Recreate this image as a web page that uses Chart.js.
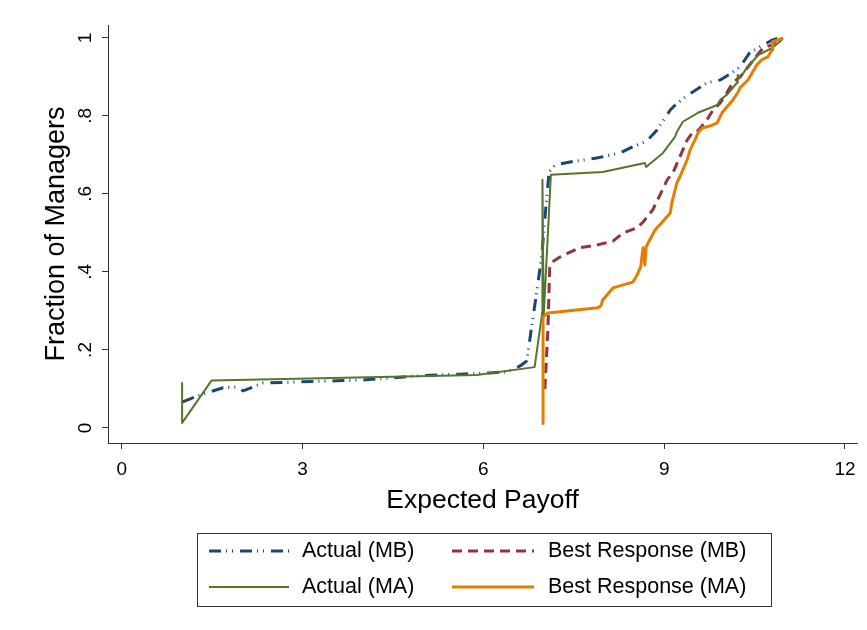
<!DOCTYPE html>
<html>
<head>
<meta charset="utf-8">
<script src="https://cdn.jsdelivr.net/npm/chart.js@4.4.1/dist/chart.umd.min.js"></script>
<style>
  html, body { margin: 0; padding: 0; background: #fff; }
  #wrap { width: 867px; height: 630px; position: relative; }
</style>
</head>
<body>
<div id="wrap"><canvas id="cdf"></canvas></div>
<script>
// Cumulative share of managers by expected payoff
const seriesLabels = ['Actual (MB)', 'Best Response (MB)', 'Actual (MA)', 'Best Response (MA)'];

const actualMBX = [1.01, 1.34, 1.68, 1.93, 2.01, 2.34, 2.90, 3.57, 4.00, 4.45, 4.83, 5.61, 6.11, 6.39, 6.61, 6.72, 6.80, 6.89, 6.97, 7.04, 7.09, 7.19, 7.44, 7.88, 8.27, 8.48, 8.71, 8.88, 9.10, 9.15, 9.31, 9.48, 9.71, 9.93, 10.12, 10.26, 10.42, 10.59, 10.80, 10.92];
const actualMBY = [0.067, 0.087, 0.103, 0.105, 0.095, 0.115, 0.118, 0.121, 0.123, 0.128, 0.133, 0.138, 0.141, 0.144, 0.159, 0.172, 0.259, 0.354, 0.444, 0.572, 0.656, 0.674, 0.682, 0.692, 0.705, 0.721, 0.735, 0.764, 0.815, 0.823, 0.844, 0.862, 0.885, 0.892, 0.910, 0.926, 0.962, 0.977, 0.995, 1.0];

const bestMBX = [7.02, 7.07, 7.10, 7.14, 7.27, 7.44, 7.60, 7.88, 8.15, 8.32, 8.55, 8.65, 8.81, 8.93, 9.05, 9.15, 9.26, 9.38, 9.48, 9.56, 9.71, 9.81, 9.93, 10.04, 10.14, 10.26, 10.37, 10.51, 10.64, 10.79, 10.92];
const bestMBY = [0.10, 0.25, 0.41, 0.425, 0.438, 0.451, 0.462, 0.469, 0.479, 0.500, 0.513, 0.528, 0.559, 0.597, 0.636, 0.656, 0.695, 0.738, 0.759, 0.762, 0.790, 0.815, 0.833, 0.859, 0.885, 0.900, 0.921, 0.949, 0.974, 0.982, 1.0];

const actualMAX = [1.0, 1.0, 1.49, 5.89, 6.85, 6.98, 6.98, 7.0, 7.12, 7.98, 8.68, 8.70, 8.98, 9.18, 9.21, 9.31, 9.56, 9.88, 9.93, 10.04, 10.21, 10.22, 10.26, 10.37, 10.56, 10.79, 10.92, 10.97];
const actualMAY = [0.115, 0.013, 0.122, 0.136, 0.156, 0.30, 0.636, 0.285, 0.649, 0.656, 0.679, 0.669, 0.705, 0.746, 0.759, 0.785, 0.808, 0.828, 0.841, 0.854, 0.885, 0.905, 0.897, 0.923, 0.956, 0.974, 0.990, 1.0];

const bestMAX = [6.99, 6.99, 7.07, 7.90, 7.95, 7.98, 8.15, 8.48, 8.55, 8.61, 8.65, 8.68, 8.70, 8.76, 8.85, 8.93, 9.10, 9.13, 9.21, 9.26, 9.38, 9.43, 9.51, 9.56, 9.63, 9.76, 9.88, 9.96, 10.04, 10.14, 10.22, 10.26, 10.39, 10.54, 10.62, 10.72, 10.79, 10.80, 10.89, 10.97];
const bestMAY = [0.008, 0.285, 0.295, 0.308, 0.313, 0.328, 0.359, 0.374, 0.392, 0.413, 0.462, 0.418, 0.464, 0.482, 0.508, 0.521, 0.551, 0.579, 0.628, 0.644, 0.687, 0.713, 0.738, 0.756, 0.769, 0.774, 0.782, 0.808, 0.823, 0.841, 0.859, 0.872, 0.892, 0.931, 0.944, 0.951, 0.969, 0.990, 0.995, 1.0];

const xTickValues = [0, 3, 6, 9, 12];
const yTickValues = [0, 0.2, 0.4, 0.6, 0.8, 1];

const toPoints = (xs, ys) => xs.map((x, i) => ({ x: x, y: ys[i] }));
const fmtY = v => (v === 0 ? '0' : v === 1 ? '1' : String(Math.round(v * 10) / 10).replace(/^0/, ''));

const FONT = '"Liberation Sans", Arial, Helvetica, sans-serif';
Chart.defaults.font.family = FONT;
Chart.defaults.color = '#000';

const datasets = [
  { label: seriesLabels[0], data: toPoints(actualMBX, actualMBY), borderColor: '#1a476f', borderWidth: 3, borderDash: [12, 5, 1, 5, 1, 7], order: 3 },
  { label: seriesLabels[1], data: toPoints(bestMBX, bestMBY), borderColor: '#90353b', borderWidth: 3, borderDash: [10, 6], order: 2 },
  { label: seriesLabels[2], data: toPoints(actualMAX, actualMAY), borderColor: '#55752f', borderWidth: 2, borderDash: [], order: 1 },
  { label: seriesLabels[3], data: toPoints(bestMAX, bestMAY), borderColor: '#e37e00', borderWidth: 3, borderDash: [], order: 0 }
];
datasets.forEach(d => { d.pointRadius = 0; d.tension = 0; d.fill = false; d.borderJoinStyle = 'round'; });

// Two-column boxed key drawn below the axes
const boxedKey = {
  id: 'boxedKey',
  afterDraw(chart) {
    const ctx = chart.ctx;
    ctx.save();
    ctx.fillStyle = '#fff';
    ctx.fillRect(197.5, 533.5, 574, 73);
    ctx.strokeStyle = '#333';
    ctx.lineWidth = 1;
    ctx.strokeRect(197.5, 533.5, 574, 73);
    const slots = [
      { i: 0, x1: 209, x2: 289, tx: 302, y: 551 },
      { i: 1, x1: 452, x2: 534, tx: 548, y: 551 },
      { i: 2, x1: 209, x2: 289, tx: 302, y: 587 },
      { i: 3, x1: 452, x2: 534, tx: 548, y: 587 }
    ];
    slots.forEach(s => {
      const d = chart.data.datasets[s.i];
      ctx.beginPath();
      ctx.setLineDash(d.borderDash || []);
      ctx.strokeStyle = d.borderColor;
      ctx.lineWidth = d.borderWidth;
      ctx.moveTo(s.x1, s.y);
      ctx.lineTo(s.x2, s.y);
      ctx.stroke();
      ctx.setLineDash([]);
      ctx.fillStyle = '#000';
      ctx.font = '21.5px ' + FONT;
      ctx.textBaseline = 'middle';
      ctx.textAlign = 'left';
      ctx.fillText(d.label, s.tx, s.y);
    });
    ctx.restore();
  }
};

new Chart(document.getElementById('cdf'), {
  type: 'line',
  data: { datasets: datasets },
  plugins: [boxedKey],
  options: {
    responsive: true,
    maintainAspectRatio: false,
    animation: false,
    layout: { padding: { top: 25, right: 10, bottom: 110, left: 0 } },
    plugins: { legend: { display: false }, tooltip: { enabled: false } },
    scales: {
      x: {
        type: 'linear',
        min: -0.23,
        max: 12.2,
        afterBuildTicks: s => { s.ticks = xTickValues.map(v => ({ value: v })); },
        afterFit: s => { s.height = 77; },
        grid: { drawOnChartArea: false, drawTicks: true, tickLength: 6, color: '#333' },
        border: { display: true, color: '#333', width: 1 },
        ticks: { font: { size: 19 }, color: '#000', padding: 9, maxRotation: 0, autoSkip: false },
        title: { display: true, text: 'Expected Payoff', font: { size: 26.5, lineHeight: 1.2 }, color: '#000', padding: { top: 0, bottom: 3 } }
      },
      y: {
        type: 'linear',
        min: -0.0385,
        max: 1.033,
        afterBuildTicks: s => { s.ticks = yTickValues.map(v => ({ value: v })); },
        afterFit: s => { s.width = 108; },
        grid: { drawOnChartArea: false, drawTicks: true, tickLength: 6, color: '#333' },
        border: { display: true, color: '#333', width: 1 },
        ticks: { font: { size: 19 }, color: '#000', padding: 8, minRotation: 90, maxRotation: 90, crossAlign: 'center', autoSkip: false, callback: v => fmtY(v) },
        title: { display: true, text: 'Fraction of Managers', font: { size: 27, lineHeight: 1.2 }, color: '#000', padding: { top: 40, bottom: 0 } }
      }
    }
  }
});
</script>
</body>
</html>
